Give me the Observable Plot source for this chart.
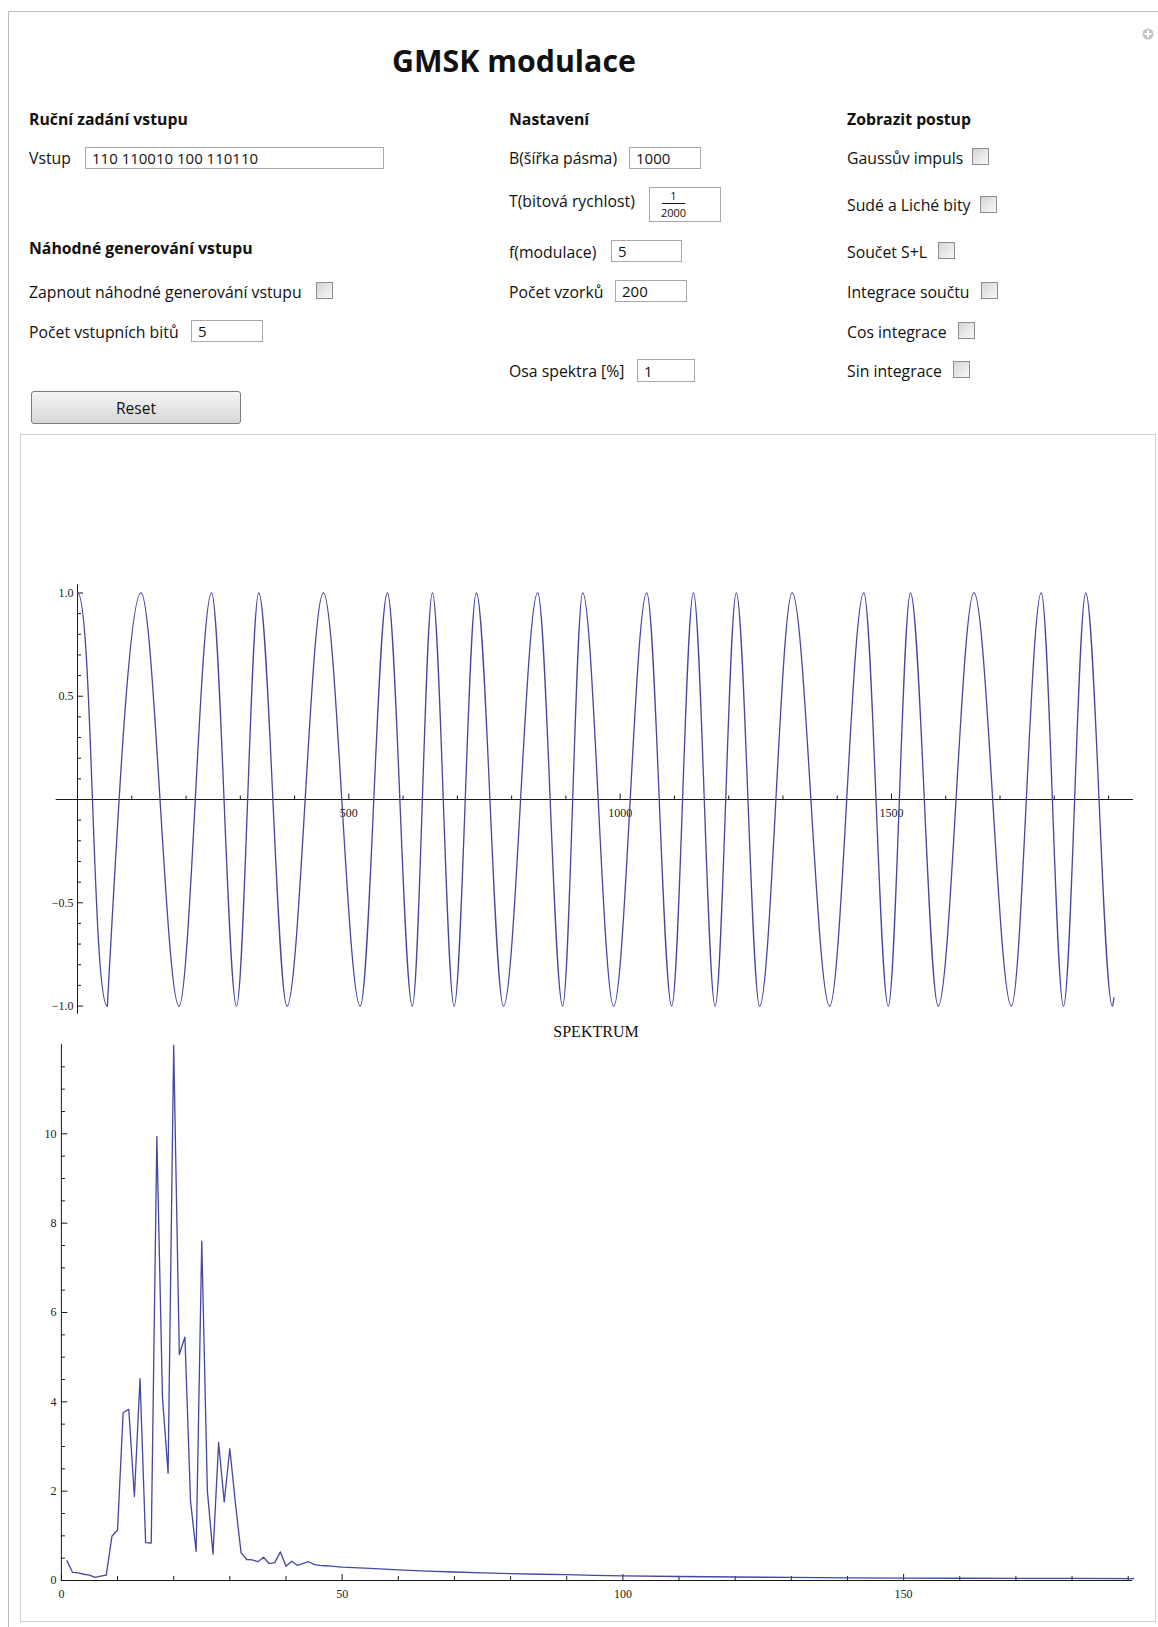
<!DOCTYPE html>
<html>
<head>
<meta charset="utf-8">
<script src="https://cdn.jsdelivr.net/npm/d3@7"></script>
<script src="https://cdn.jsdelivr.net/npm/@observablehq/plot@0.6"></script>
<style>
  body { margin: 0; background: #fff; font-family: "Open Sans", "Noto Sans", sans-serif; color: #111; }
  #page { position: relative; width: 1158px; height: 1627px; overflow: hidden; background: #fff; }
  .abs { position: absolute; white-space: nowrap; }
  .lbl { font-size: 15.8px; line-height: 20px; transform: translateY(-50%); }
  .hd { font-weight: bold; font-size: 15.8px; line-height: 20px; transform: translateY(-50%); }
  .box { position: absolute; border: 1px solid #a9a9a9; background: #fff; box-sizing: border-box;
         font-size: 15px; padding-left: 6px; display: flex; align-items: center; }
  .cb { position: absolute; width: 17px; height: 17px; border: 1px solid #8d8d8d; box-sizing: border-box;
        background: linear-gradient(135deg, #d6d6d6, #f7f7f7); }
  .plotwrap { position: absolute; left: 0; }
</style>
</head>
<body>
<div id="page">
  <!-- outer panel frame -->
  <div class="abs" style="left:8px;top:11px;width:1160px;height:1630px;border-left:1px solid #bdbdbd;border-top:1px solid #bdbdbd;"></div>
  <svg class="abs" style="left:1142px;top:28px" width="12" height="12">
    <circle cx="6" cy="6" r="5.5" fill="#c3c3c3"/>
    <rect x="2.5" y="5" width="7" height="2" fill="#fff"/>
    <rect x="5" y="2.5" width="2" height="7" fill="#fff"/>
  </svg>

  <div class="abs" style="left:514px;top:60px;transform:translate(-50%,-50%);font-size:30.3px;font-weight:bold;">GMSK modulace</div>

  <!-- column 1 -->
  <div class="abs hd" style="left:29px;top:119px;">Ruční zadání vstupu</div>
  <div class="abs lbl" style="left:29px;top:158px;">Vstup</div>
  <div class="box" style="left:85px;top:147px;width:299px;height:22px;">110 110010 100 110110</div>
  <div class="abs hd" style="left:29px;top:248px;">Náhodné generování vstupu</div>
  <div class="abs lbl" style="left:29px;top:292px;">Zapnout náhodné generování vstupu</div>
  <div class="cb" style="left:316px;top:282px;"></div>
  <div class="abs lbl" style="left:29px;top:332px;">Počet vstupních bitů</div>
  <div class="box" style="left:191px;top:320px;width:72px;height:22px;">5</div>
  <div class="abs" style="left:31px;top:391px;width:210px;height:33px;box-sizing:border-box;border:1px solid #7a7a7a;border-radius:3px;background:linear-gradient(#f4f4f4,#e6e6e6 50%,#d6d6d6);display:flex;align-items:center;justify-content:center;font-size:15.5px;">Reset</div>

  <!-- column 2 -->
  <div class="abs hd" style="left:509px;top:119px;">Nastavení</div>
  <div class="abs lbl" style="left:509px;top:158px;">B(šířka pásma)</div>
  <div class="box" style="left:629px;top:147px;width:72px;height:22px;">1000</div>
  <div class="abs lbl" style="left:509px;top:201px;">T(bitová rychlost)</div>
  <div class="box" style="left:649px;top:187px;width:72px;height:35px;padding-left:0;">
    <div style="position:absolute;left:12px;top:2px;width:23px;text-align:center;font-size:11px;line-height:12px;">1</div>
    <div style="position:absolute;left:12px;top:15px;width:23px;height:1px;background:#111;"></div>
    <div style="position:absolute;left:8px;top:19px;width:31px;text-align:center;font-size:11px;line-height:12px;">2000</div>
  </div>
  <div class="abs lbl" style="left:509px;top:252px;">f(modulace)</div>
  <div class="box" style="left:611px;top:240px;width:71px;height:22px;">5</div>
  <div class="abs lbl" style="left:509px;top:292px;">Počet vzorků</div>
  <div class="box" style="left:615px;top:280px;width:72px;height:22px;">200</div>
  <div class="abs lbl" style="left:509px;top:371px;">Osa spektra [%]</div>
  <div class="box" style="left:637px;top:359px;width:58px;height:23px;">1</div>

  <!-- column 3 -->
  <div class="abs hd" style="left:847px;top:119px;">Zobrazit postup</div>
  <div class="abs lbl" style="left:847px;top:158px;">Gaussův impuls</div>
  <div class="cb" style="left:972px;top:148px;"></div>
  <div class="abs lbl" style="left:847px;top:205px;">Sudé a Liché bity</div>
  <div class="cb" style="left:980px;top:196px;"></div>
  <div class="abs lbl" style="left:847px;top:252px;">Součet S+L</div>
  <div class="cb" style="left:938px;top:242px;"></div>
  <div class="abs lbl" style="left:847px;top:292px;">Integrace součtu</div>
  <div class="cb" style="left:981px;top:282px;"></div>
  <div class="abs lbl" style="left:847px;top:332px;">Cos integrace</div>
  <div class="cb" style="left:958px;top:322px;"></div>
  <div class="abs lbl" style="left:847px;top:371px;">Sin integrace</div>
  <div class="cb" style="left:953px;top:361px;"></div>

  <!-- output pane -->
  <div class="abs" style="left:20px;top:434px;width:1136px;height:1188px;box-sizing:border-box;border:1px solid #cfcfcf;"></div>

  <div id="wave" class="plotwrap" style="top:560px;"></div>
  <div id="spec" class="plotwrap" style="top:1030px;"></div>
  <div class="abs" style="left:596px;top:1032px;transform:translate(-50%,-50%);font-family:'Liberation Serif',serif;font-size:16px;">SPEKTRUM</div>
</div>

<script>
// ---- GMSK waveform: positions of the extrema (sample index, value)
const waveX = [0, 55, 117, 187, 247, 293, 334, 386, 453, 521, 571, 617, 654, 694, 735, 785,
               848, 894, 931, 988, 1049, 1095, 1135, 1175, 1214, 1257, 1317, 1386, 1449, 1494,
               1535, 1586, 1652, 1721, 1776, 1817, 1858, 1907, 1910];
const waveY = [1, -1, 1, -1, 1, -1, 1, -1, 1, -1, 1, -1, 1, -1, 1, -1,
               1, -1, 1, -1, 1, -1, 1, -1, 1, -1, 1, -1, 1, -1,
               1, -1, 1, -1, 1, -1, 1, -1, -0.96];

const waveXMajor = [500, 1000, 1500];
const waveXLabels = ["500", "1000", "1500"];
const waveXMinor = [100, 200, 300, 400, 600, 700, 800, 900, 1100, 1200, 1300, 1400, 1600, 1700, 1800, 1900];
const waveYMajor = [1, 0.5, -0.5, -1];
const waveYLabels = ["1.0", "0.5", "\u22120.5", "\u22121.0"];
const waveYMinor = [0.9, 0.8, 0.7, 0.6, 0.4, 0.3, 0.2, 0.1, -0.1, -0.2, -0.3, -0.4, -0.6, -0.7, -0.8, -0.9];

// ---- Spectrum (bin index, magnitude)
const specX = [1, 2, 3, 4, 5, 6, 7, 8, 9, 10, 11, 12, 13, 14, 15, 16, 17, 18, 19, 20,
               21, 22, 23, 24, 25, 26, 27, 28, 29, 30, 31, 32, 33, 34, 35, 36, 37, 38, 39, 40,
               41, 42, 43, 44, 45, 46, 47, 48, 49, 50, 55, 60, 65, 70, 75, 80, 85, 90, 95, 100,
               110, 120, 130, 140, 150, 160, 170, 180, 191];
const specY = [0.44, 0.18, 0.17, 0.14, 0.12, 0.07, 0.10, 0.12, 0.99, 1.13, 3.76, 3.83, 1.88, 4.52, 0.85, 0.84, 9.94, 4.10, 2.40, 11.98,
               5.06, 5.45, 1.77, 0.65, 7.60, 2.00, 0.59, 3.09, 1.76, 2.95, 1.72, 0.62, 0.47, 0.46, 0.42, 0.52, 0.38, 0.40, 0.64, 0.32,
               0.43, 0.34, 0.38, 0.42, 0.36, 0.34, 0.33, 0.32, 0.31, 0.30, 0.27, 0.24, 0.21, 0.19, 0.17, 0.155, 0.14, 0.13, 0.115, 0.105,
               0.09, 0.078, 0.068, 0.06, 0.055, 0.05, 0.048, 0.046, 0.044];

const specXMajor = [0, 50, 100, 150];
const specXLabels = ["0", "50", "100", "150"];
const specXMinor = [10, 20, 30, 40, 60, 70, 80, 90, 110, 120, 130, 140, 160, 170, 180, 190];
const specYMajor = [0, 2, 4, 6, 8, 10];
const specYLabels = ["0", "2", "4", "6", "8", "10"];
const specYMinor = [0.5, 1, 1.5, 2.5, 3, 3.5, 4.5, 5, 5.5, 6.5, 7, 7.5, 8.5, 9, 9.5, 10.5, 11, 11.5];

const LINE = "#4646a3";
const AX = "#1a1a1a";
const tickFont = "Liberation Serif";

const wave = waveX.map((x, i) => ({x, y: waveY[i]}));
const spec = specX.map((x, i) => ({x, y: specY[i]}));

// tick lengths expressed in data units of each plot
const wvXpx = (1113 - 77) / 1910, wvYpx = 206.5;
const spXpx = 5.614, spYpx = 44.67;

const wavePlot = Plot.plot({
  width: 1158, height: 470,
  marginLeft: 55.7, marginRight: 25, marginTop: 24.2, marginBottom: 16.2,
  style: {background: "transparent", fontFamily: tickFont, fontSize: "12px", overflow: "visible"},
  x: {domain: [-39.3, 1946], axis: null},
  y: {domain: [-1.04, 1.04], axis: null},
  marks: [
    Plot.ruleY([0], {stroke: AX, strokeWidth: 1}),
    Plot.ruleX([0], {stroke: AX, strokeWidth: 1}),
    Plot.ruleX(waveXMinor, {x: d => d, y1: 0, y2: 3.5 / wvYpx, stroke: AX}),
    Plot.ruleX(waveXMajor, {x: d => d, y1: 0, y2: 5.5 / wvYpx, stroke: AX}),
    Plot.ruleY(waveYMinor, {y: d => d, x1: 0, x2: 4 / wvXpx, stroke: AX}),
    Plot.ruleY(waveYMajor, {y: d => d, x1: 0, x2: 6 / wvXpx, stroke: AX}),
    Plot.text(waveXMajor, {x: d => d, y: 0, dy: 14, text: (d, i) => waveXLabels[i], fontSize: 12, fill: "#222"}),
    Plot.text(waveYMajor, {x: 0, y: d => d, dx: -4, textAnchor: "end", text: (d, i) => waveYLabels[i], fontSize: 12, fill: "#222"}),
    Plot.line(wave.slice(0, 2), {x: "x", y: "y", curve: "bump-x", stroke: LINE, strokeWidth: 1.3}),
    Plot.line(wave.slice(1), {x: "x", y: "y", curve: "monotone-x", stroke: LINE, strokeWidth: 1.3})
  ]
});
document.getElementById("wave").appendChild(wavePlot);

const specPlot = Plot.plot({
  width: 1158, height: 580,
  marginLeft: 60.9, marginRight: 25.8, marginTop: 14, marginBottom: 30,
  style: {background: "transparent", fontFamily: tickFont, fontSize: "12px", overflow: "visible"},
  x: {domain: [0, 190.8], axis: null},
  y: {domain: [0, 12], axis: null},
  marks: [
    Plot.ruleY([0], {stroke: AX, strokeWidth: 1}),
    Plot.ruleX([0], {stroke: AX, strokeWidth: 1}),
    Plot.ruleX(specXMinor, {x: d => d, y1: 0, y2: 4 / spYpx, stroke: AX}),
    Plot.ruleX(specXMajor, {x: d => d, y1: 0, y2: 6 / spYpx, stroke: AX}),
    Plot.ruleY(specYMinor, {y: d => d, x1: 0, x2: 4 / spXpx, stroke: AX}),
    Plot.ruleY(specYMajor, {y: d => d, x1: 0, x2: 6.5 / spXpx, stroke: AX}),
    Plot.text(specXMajor, {x: d => d, y: 0, dy: 14, text: (d, i) => specXLabels[i], fontSize: 12, fill: "#222"}),
    Plot.text(specYMajor, {x: 0, y: d => d, dx: -5, textAnchor: "end", text: (d, i) => specYLabels[i], fontSize: 12, fill: "#222"}),
    Plot.line(spec, {x: "x", y: "y", stroke: LINE, strokeWidth: 1.3})
  ]
});
document.getElementById("spec").appendChild(specPlot);
</script>
</body>
</html>
